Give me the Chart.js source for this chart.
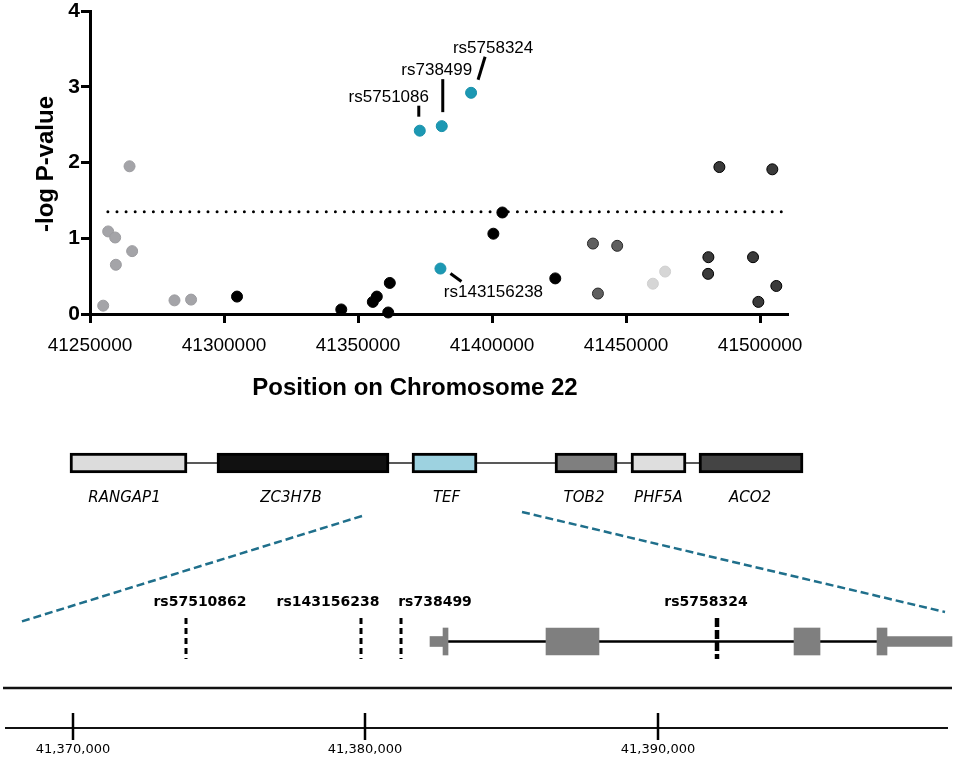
<!DOCTYPE html>
<html>
<head>
<meta charset="utf-8">
<script src="https://cdn.jsdelivr.net/npm/chart.js@4/dist/chart.umd.min.js"></script>
<style>
  html, body { margin: 0; padding: 0; background: #fff; }
  #wrap { position: relative; width: 957px; height: 758px; }
  #topBox { position: absolute; left: 0; top: 0; width: 957px; height: 400px; }
  #bottomBox { position: absolute; left: 0; top: 400px; width: 957px; height: 358px; }
</style>
</head>
<body>
<div id="wrap">
  <div id="topBox"><canvas id="manhattan"></canvas></div>
  <div id="bottomBox"><canvas id="geneMap"></canvas></div>
</div>
<script>
// ---- top panel: -log P per SNP, coloured by gene
const rangap1Pos = [41254920, 41256780, 41259390, 41259650, 41264750, 41265720, 41281520, 41287710];
const rangap1LogP = [0.11, 1.09, 1.01, 0.65, 1.95, 0.83, 0.18, 0.19];
const zc3h7bPos = [41304850, 41343740, 41355510, 41357000, 41361850, 41361250, 41400480, 41403840, 41423580];
const zc3h7bLogP = [0.23, 0.06, 0.16, 0.23, 0.41, 0.02, 1.06, 1.34, 0.47];
const tefPos = [41373030, 41381230, 41392170, 41380740];
const tefLogP = [2.42, 2.48, 2.92, 0.60];
const tefNames = ['rs5751086', 'rs738499', 'rs5758324', 'rs143156238'];
const tob2Pos = [41437630, 41446680, 41439490];
const tob2LogP = [0.93, 0.90, 0.27];
const phf5aPos = [41459990, 41464570];
const phf5aLogP = [0.40, 0.56];
const aco2Pos = [41484800, 41504550, 41480700, 41480590, 41497350, 41506040, 41499340];
const aco2LogP = [1.94, 1.91, 0.75, 0.53, 0.75, 0.37, 0.16];
const threshold = 1.35;
const thresholdSpan = [41256670, 41508530];
const xTickValues = [41250000, 41300000, 41350000, 41400000, 41450000, 41500000];
const yTickValues = [0, 1, 2, 3, 4];

// ---- gene overview
const geneNames = ['RANGAP1', 'ZC3H7B', 'TEF', 'TOB2', 'PHF5A', 'ACO2'];
const geneStart = [41242880, 41297650, 41370310, 41423590, 41451900, 41477240];
const geneEnd = [41286480, 41361740, 41394530, 41446690, 41472390, 41515990];
const geneColors = ['#dcdcdc', '#111111', '#9dd2e0', '#7f7f7f', '#dedede', '#444444'];

// ---- TEF close-up
const snpNames = ['rs57510862', 'rs143156238', 'rs738499', 'rs5758324'];
const snpPos = [41373880, 41379863, 41381231, 41392034];
const exonStart = [41382667, 41386188, 41394667, 41397504];
const exonEnd = [41382838, 41387999, 41395556, 41397846];
const utrStart = [41382222, 41397846];
const utrEnd = [41382667, 41400068];
const transcriptSpan = [41382222, 41397846];
const detailSpan = [41367624, 41400068];
const axisSpan = [41367692, 41399931];
const detailTicks = [41370000, 41380000, 41390000];
const zoomFrom = [41351676, 41411289];
const zoomTo = [41368205, 41399829];

// layout (pixel rows of the lower panel, label nudges)
const GENE_ROW = 63, GENE_LABEL_ROW = 98;
const ZOOM_TOP = [116, 112], ZOOM_BOTTOM = [222, 212];
const SNP_LABEL_ROW = 202.5, SNP_TOP = 218, SNP_BOTTOM = 259;
const TX_ROW = 241.5, MID_ROW = 288, AXIS_ROW = 328;
const TICK_UP = 313, TICK_DOWN = 340, TICK_LABEL_ROW = 349.5;
const geneLabelShift = [-4, -12, 2, -2, 0, -1];
const snpLabelShift = [14, -33, 34, -11];
const tefLabelOffsets = [[-31, -33], [-5, -56], [22, -44], [53, 24]];
const tefLeaders = [[-1, -25, -1, -14], [1, -47, 1, -14], [14, -36, 7, -13], [10, 5, 21, 13]];

const SANS = '"Liberation Sans", Arial, sans-serif';
const DEJAVU = '"DejaVu Sans", Verdana, sans-serif';

function dotSet(pos, vals, fill, edge) {
  return {
    data: pos.map((x, i) => ({ x: x, y: vals[i] })),
    backgroundColor: fill,
    borderColor: edge,
    pointRadius: 5.5,
    pointBorderWidth: 1,
    clip: false
  };
}

const snpNotes = {
  id: 'snpNotes',
  afterDatasetsDraw(chart) {
    const ctx = chart.ctx;
    const pts = chart.getDatasetMeta(2).data;
    ctx.save();
    ctx.fillStyle = '#000';
    ctx.strokeStyle = '#000';
    ctx.lineWidth = 3;
    ctx.font = '17px ' + SANS;
    ctx.textAlign = 'center';
    ctx.textBaseline = 'middle';
    tefNames.forEach((name, i) => {
      const p = pts[i];
      const l = tefLeaders[i];
      ctx.beginPath();
      ctx.moveTo(p.x + l[0], p.y + l[1]);
      ctx.lineTo(p.x + l[2], p.y + l[3]);
      ctx.stroke();
      ctx.fillText(name, p.x + tefLabelOffsets[i][0], p.y + tefLabelOffsets[i][1]);
    });
    ctx.restore();
  }
};

const axisTitles = {
  id: 'axisTitles',
  afterDraw(chart) {
    const ctx = chart.ctx;
    ctx.save();
    ctx.fillStyle = '#000';
    ctx.font = 'bold 24px ' + SANS;
    ctx.textAlign = 'center';
    ctx.textBaseline = 'middle';
    ctx.fillText('Position on Chromosome 22', 415, 388);
    ctx.translate(46, 164);
    ctx.rotate(-Math.PI / 2);
    ctx.fillText('-log P-value', 0, 0);
    ctx.restore();
  }
};

new Chart(document.getElementById('manhattan'), {
  type: 'scatter',
  data: {
    datasets: [
      dotSet(rangap1Pos, rangap1LogP, '#a4a4a8', '#9c9ca0'),
      dotSet(zc3h7bPos, zc3h7bLogP, '#000000', '#000000'),
      dotSet(tefPos, tefLogP, '#1c98b3', '#1890aa'),
      dotSet(tob2Pos, tob2LogP, '#5f5f5f', '#2a2a2a'),
      dotSet(phf5aPos, phf5aLogP, '#d6d6d6', '#d0d0d0'),
      dotSet(aco2Pos, aco2LogP, '#3a3a3a', '#000000'),
      {
        data: thresholdSpan.map(x => ({ x: x, y: threshold })),
        showLine: true,
        borderColor: '#000',
        borderWidth: 3,
        borderDash: [0, 9.1],
        borderCapStyle: 'round',
        pointRadius: 0
      }
    ]
  },
  options: {
    responsive: true,
    maintainAspectRatio: false,
    animation: false,
    devicePixelRatio: 1,
    layout: { padding: { top: 11, right: 169, left: 0, bottom: 0 } },
    plugins: { legend: { display: false }, tooltip: { enabled: false } },
    scales: {
      x: {
        type: 'linear',
        min: 41250000,
        max: 41510400,
        afterBuildTicks: scale => { scale.ticks = xTickValues.map(v => ({ value: v })); },
        afterFit: scale => { scale.height = 86; scale.paddingLeft = 0; scale.paddingRight = 0; },
        ticks: {
          autoSkip: false,
          maxRotation: 0,
          includeBounds: false,
          padding: 11,
          color: '#000',
          font: { family: SANS, size: 19 },
          callback: v => String(v)
        },
        grid: { drawOnChartArea: false, drawTicks: true, tickLength: 9, tickWidth: 3, tickColor: '#000' },
        border: { display: true, width: 3, color: '#000' }
      },
      y: {
        min: 0,
        max: 4,
        afterBuildTicks: scale => { scale.ticks = yTickValues.map(v => ({ value: v })); },
        afterFit: scale => { scale.width = 90; scale.paddingTop = 0; scale.paddingBottom = 0; },
        ticks: {
          padding: 1,
          color: '#000',
          font: { family: SANS, size: 21, weight: 'bold', lineHeight: 1 }
        },
        grid: { drawOnChartArea: false, drawTicks: true, tickLength: 9, tickWidth: 3, tickColor: '#000' },
        border: { display: true, width: 3, color: '#000' }
      }
    }
  },
  plugins: [snpNotes, axisTitles]
});

// ---- lower panel
function barRow(starts, ends, row) {
  return starts.map((s, i) => ({ x: [s, ends[i]], y: row }));
}
function segment(span, row, axis, width, extra) {
  return Object.assign({
    type: 'line',
    xAxisID: axis,
    yAxisID: 'y',
    data: span.map(x => ({ x: x, y: row })),
    borderColor: '#000',
    borderWidth: width,
    pointRadius: 0,
    fill: false,
    order: 2
  }, extra || {});
}

const geneMapText = {
  id: 'geneMapText',
  beforeDatasetsDraw(chart) {
    const { ctx } = chart;
    const { xo, xd, y } = chart.scales;
    ctx.save();
    ctx.strokeStyle = '#1f6f8b';
    ctx.lineWidth = 2.5;
    ctx.setLineDash([8, 4]);
    for (let k = 0; k < 2; k++) {
      ctx.beginPath();
      ctx.moveTo(xo.getPixelForValue(zoomFrom[k]), y.getPixelForValue(ZOOM_TOP[k]));
      ctx.lineTo(xd.getPixelForValue(zoomTo[k]), y.getPixelForValue(ZOOM_BOTTOM[k]));
      ctx.stroke();
    }
    ctx.restore();
  },
  afterDatasetsDraw(chart) {
    const { ctx } = chart;
    const { xo, xd, y } = chart.scales;
    ctx.save();
    ctx.fillStyle = '#000';
    ctx.textAlign = 'center';
    ctx.textBaseline = 'middle';
    ctx.font = 'italic 15px ' + DEJAVU;
    geneNames.forEach((name, i) => {
      const mid = xo.getPixelForValue((geneStart[i] + geneEnd[i]) / 2);
      ctx.fillText(name, mid + geneLabelShift[i], y.getPixelForValue(GENE_LABEL_ROW));
    });
    ctx.font = 'bold 14px ' + DEJAVU;
    snpNames.forEach((name, i) => {
      ctx.fillText(name, xd.getPixelForValue(snpPos[i]) + snpLabelShift[i], y.getPixelForValue(SNP_LABEL_ROW));
    });
    ctx.strokeStyle = '#000';
    ctx.lineWidth = 2.5;
    ctx.font = '13px ' + DEJAVU;
    detailTicks.forEach(t => {
      const px = Math.round(xd.getPixelForValue(t));
      ctx.beginPath();
      ctx.moveTo(px, y.getPixelForValue(TICK_UP));
      ctx.lineTo(px, y.getPixelForValue(TICK_DOWN));
      ctx.stroke();
      ctx.fillText(t.toLocaleString('en-US'), px, y.getPixelForValue(TICK_LABEL_ROW));
    });
    ctx.restore();
  }
};

const snpMarkers = snpPos.map((p, i) => ({
  type: 'line',
  xAxisID: 'xd',
  yAxisID: 'y',
  data: [{ x: p, y: SNP_TOP }, { x: p, y: SNP_BOTTOM }],
  borderColor: '#000',
  borderWidth: i === 3 ? 4.5 : 3,
  borderDash: i === 3 ? [9, 3] : [6, 4],
  pointRadius: 0,
  fill: false,
  order: 0
}));

new Chart(document.getElementById('geneMap'), {
  type: 'bar',
  data: {
    datasets: [
      {
        indexAxis: 'y', xAxisID: 'xo', yAxisID: 'y', grouped: false,
        data: barRow(geneStart, geneEnd, GENE_ROW),
        backgroundColor: geneColors,
        borderColor: '#000',
        borderWidth: 3,
        borderSkipped: false,
        barThickness: 20,
        order: 1
      },
      {
        indexAxis: 'y', xAxisID: 'xd', yAxisID: 'y', grouped: false,
        data: barRow(exonStart, exonEnd, TX_ROW),
        backgroundColor: '#7f7f7f',
        borderWidth: 0,
        barThickness: 27,
        order: 1
      },
      {
        indexAxis: 'y', xAxisID: 'xd', yAxisID: 'y', grouped: false,
        data: barRow(utrStart, utrEnd, TX_ROW),
        backgroundColor: '#7f7f7f',
        borderWidth: 0,
        barThickness: 10,
        order: 1
      },
      segment([geneStart[0], geneEnd[geneEnd.length - 1]], GENE_ROW, 'xo', 1.5, { borderColor: '#222' }),
      segment(transcriptSpan, TX_ROW, 'xd', 2.5),
      segment(detailSpan, MID_ROW, 'xd', 2.5, { borderColor: '#111' }),
      segment(axisSpan, AXIS_ROW, 'xd', 2, { borderColor: '#111' })
    ].concat(snpMarkers)
  },
  options: {
    responsive: true,
    maintainAspectRatio: false,
    animation: false,
    devicePixelRatio: 1,
    layout: { padding: 0, autoPadding: false },
    plugins: { legend: { display: false }, tooltip: { enabled: false } },
    scales: {
      xo: { type: 'linear', axis: 'x', min: 41216803, max: 41573360, offset: false, display: false, stacked: false },
      xd: { type: 'linear', axis: 'x', min: 41367521, max: 41400239, offset: false, display: false, stacked: false },
      y: { type: 'linear', min: 0, max: 358, reverse: true, offset: false, display: false }
    }
  },
  plugins: [geneMapText]
});
</script>
</body>
</html>
